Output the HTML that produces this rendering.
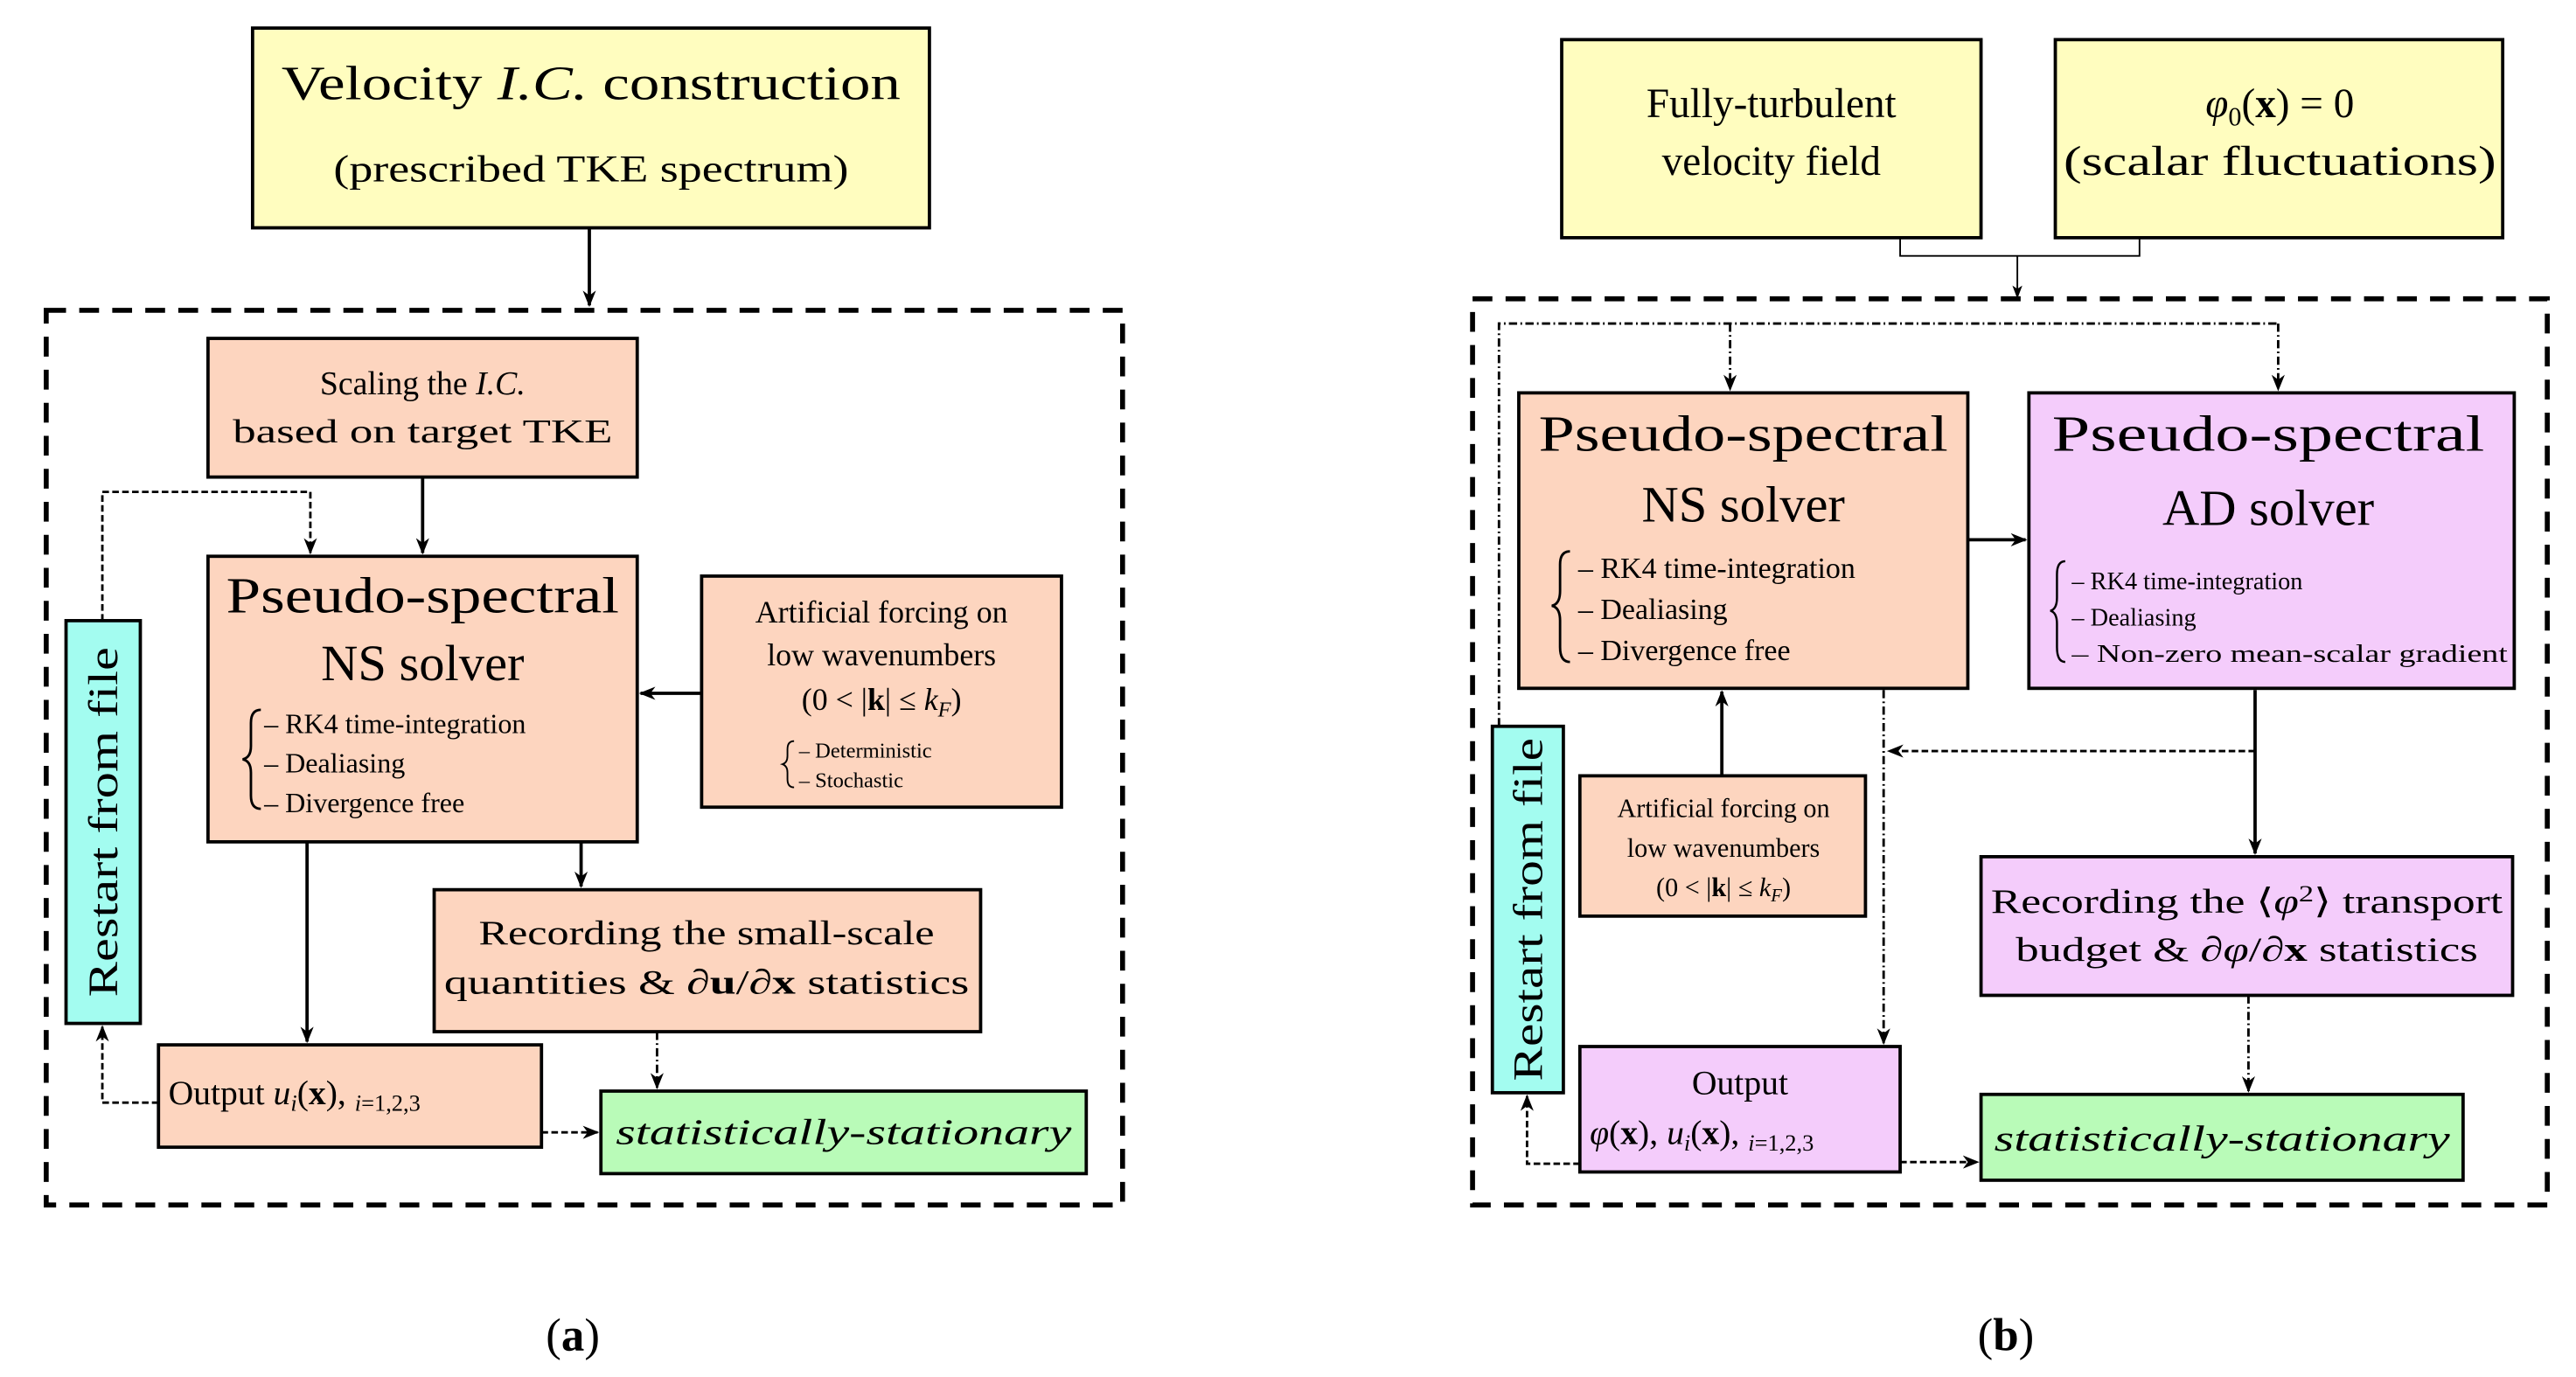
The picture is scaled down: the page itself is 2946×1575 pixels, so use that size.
<!DOCTYPE html>
<html><head><meta charset="utf-8"><style>
html,body{margin:0;padding:0;background:#fff;}
svg{display:block;}
text{font-family:"Liberation Serif",serif;fill:#000;}
</style></head><body>
<svg width="2946" height="1575" viewBox="0 0 1560.4 834.2" xmlns="http://www.w3.org/2000/svg">
<defs>
<marker id="ah" markerWidth="10" markerHeight="8" refX="9" refY="4" orient="auto" markerUnits="userSpaceOnUse"><path d="M0,0 L10,4 L0,8 L3,4 Z" fill="#000"/></marker>
<marker id="ahs" markerWidth="8" markerHeight="6" refX="7" refY="3" orient="auto" markerUnits="userSpaceOnUse"><path d="M0,0 L8,3 L0,6 L2,3 Z" fill="#000"/></marker>
</defs>
<g stroke="#000" stroke-width="2">
<!-- LEFT -->
<rect x="153" y="17" width="410" height="121" fill="#fffdbf"/>
<rect x="28" y="188" width="652" height="542" fill="none" stroke-width="3" stroke-dasharray="12,8"/>
<rect x="126" y="205" width="260" height="84" fill="#fdd5bf"/>
<rect x="126" y="337" width="260" height="173" fill="#fdd5bf"/>
<rect x="425" y="349" width="218" height="140" fill="#fdd5bf"/>
<rect x="40" y="376" width="45" height="244" fill="#a3fcf0"/>
<rect x="263" y="539" width="331" height="86" fill="#fdd5bf"/>
<rect x="96" y="633" width="232" height="62" fill="#fdd5bf"/>
<rect x="364" y="661" width="294" height="50" fill="#b9fbb8"/>
</g>
<g stroke="#000" stroke-width="2" fill="none">
<line x1="357" y1="138" x2="357" y2="185" marker-end="url(#ah)"/>
<line x1="256" y1="289" x2="256" y2="335" marker-end="url(#ah)"/>
<line x1="425" y1="420" x2="388" y2="420" marker-end="url(#ah)"/>
<polyline points="62,376 62,298 188,298 188,335" stroke-width="1.5" stroke-dasharray="4,2" marker-end="url(#ah)"/>
<line x1="186" y1="510" x2="186" y2="631" marker-end="url(#ah)"/>
<line x1="352" y1="510" x2="352" y2="537" marker-end="url(#ah)"/>
<polyline points="96,668 62,668 62,622" stroke-width="1.5" stroke-dasharray="4,2" marker-end="url(#ah)"/>
<line x1="328" y1="686" x2="362" y2="686" stroke-width="1.5" stroke-dasharray="4,2" marker-end="url(#ah)"/>
<line x1="398" y1="625" x2="398" y2="659" stroke-width="1.5" stroke-dasharray="5,2,1,2" marker-end="url(#ah)"/>
<path d="M158,430 q-6,0 -6,8 v14 q0,7 -5,8 q5,1 5,8 v14 q0,8 6,8" stroke-width="1.5"/>
<path d="M481,449 q-4,0 -4,5 v4 q0,4 -3,5 q3,1 3,5 v4 q0,5 4,5" stroke-width="1"/>
</g>
<text x="358" y="60" font-size="29" text-anchor="middle" textLength="375" lengthAdjust="spacingAndGlyphs">Velocity <tspan font-style="italic">I.C.</tspan> construction</text>
<text x="358" y="110" font-size="23" text-anchor="middle" textLength="312" lengthAdjust="spacingAndGlyphs">(prescribed TKE spectrum)</text>
<text x="256" y="239" font-size="20" text-anchor="middle">Scaling the <tspan font-style="italic">I.C.</tspan></text>
<text x="256" y="268" font-size="20" text-anchor="middle" textLength="230" lengthAdjust="spacingAndGlyphs">based on target TKE</text>
<text x="256" y="371" font-size="31" text-anchor="middle" textLength="238" lengthAdjust="spacingAndGlyphs">Pseudo-spectral</text>
<text x="256" y="412" font-size="31" text-anchor="middle">NS solver</text>
<text x="160" y="444" font-size="17">– RK4 time-integration</text>
<text x="160" y="468" font-size="17">– Dealiasing</text>
<text x="160" y="492" font-size="17">– Divergence free</text>
<text x="534" y="377" font-size="19" text-anchor="middle">Artificial forcing on</text>
<text x="534" y="403" font-size="19" text-anchor="middle">low wavenumbers</text>
<text x="534" y="430" font-size="19" text-anchor="middle">(0 &lt; |<tspan font-weight="bold">k</tspan>| ≤ <tspan font-style="italic">k<tspan font-size="13" dy="4">F</tspan></tspan><tspan dy="-4">)</tspan></text>
<text x="484" y="459" font-size="13">– Deterministic</text>
<text x="484" y="477" font-size="13">– Stochastic</text>
<text transform="translate(71,498) rotate(-90)" font-size="25" text-anchor="middle" textLength="212" lengthAdjust="spacingAndGlyphs">Restart from file</text>
<text x="428" y="572" font-size="21" text-anchor="middle" textLength="276" lengthAdjust="spacingAndGlyphs">Recording the small-scale</text>
<text x="428" y="602" font-size="21" text-anchor="middle" textLength="318" lengthAdjust="spacingAndGlyphs">quantities &amp; ∂<tspan font-weight="bold">u</tspan>/∂<tspan font-weight="bold">x</tspan> statistics</text>
<text x="102" y="669" font-size="21">Output <tspan font-style="italic">u<tspan font-size="14" dy="4">i</tspan></tspan><tspan dy="-4">(<tspan font-weight="bold">x</tspan>),</tspan> <tspan font-size="14" font-style="italic" dy="4">i</tspan><tspan font-size="14" dy="0">=1,2,3</tspan></text>
<text x="511" y="693" font-size="22" font-style="italic" text-anchor="middle" textLength="276" lengthAdjust="spacingAndGlyphs">statistically-stationary</text>
<text x="347" y="818" font-size="28" text-anchor="middle">(<tspan font-weight="bold">a</tspan>)</text>

<!-- RIGHT -->
<g stroke="#000" stroke-width="2">
<rect x="946" y="24" width="254" height="120" fill="#fffdbf"/>
<rect x="1245" y="24" width="271" height="120" fill="#fffdbf"/>
<rect x="892" y="181" width="651" height="549" fill="none" stroke-width="3" stroke-dasharray="12,8"/>
<rect x="920" y="238" width="272" height="179" fill="#fdd5bf"/>
<rect x="1229" y="238" width="294" height="179" fill="#f4ccfb"/>
<rect x="957" y="470" width="173" height="85" fill="#fdd5bf"/>
<rect x="904" y="440" width="43" height="222" fill="#a3fcf0"/>
<rect x="1200" y="519" width="322" height="84" fill="#f4ccfb"/>
<rect x="957" y="634" width="194" height="76" fill="#f4ccfb"/>
<rect x="1200" y="663" width="292" height="52" fill="#b9fbb8"/>
</g>
<g stroke="#000" stroke-width="2" fill="none">
<polyline points="1151,144 1151,155 1296,155 1296,144" stroke-width="1"/>
<line x1="1222" y1="155" x2="1222" y2="180" stroke-width="1" marker-end="url(#ahs)"/>
<polyline points="908,440 908,196 1380,196" stroke-width="1.5" stroke-dasharray="5,2,1,2"/>
<line x1="1048" y1="196" x2="1048" y2="236" stroke-width="1.5" stroke-dasharray="5,2,1,2" marker-end="url(#ah)"/>
<line x1="1380" y1="196" x2="1380" y2="236" stroke-width="1.5" stroke-dasharray="5,2,1,2" marker-end="url(#ah)"/>
<line x1="1192" y1="327" x2="1227" y2="327" marker-end="url(#ah)"/>
<line x1="1043" y1="470" x2="1043" y2="419" marker-end="url(#ah)"/>
<line x1="1366" y1="455" x2="1144" y2="455" stroke-width="1.5" stroke-dasharray="4,2" marker-end="url(#ah)"/>
<line x1="1366" y1="418" x2="1366" y2="517" marker-end="url(#ah)"/>
<line x1="1141" y1="418" x2="1141" y2="632" stroke-width="1.5" stroke-dasharray="5,2,1,2" marker-end="url(#ah)"/>
<line x1="1362" y1="603" x2="1362" y2="661" stroke-width="1.5" stroke-dasharray="5,2,1,2" marker-end="url(#ah)"/>
<polyline points="957,705 925,705 925,664" stroke-width="1.5" stroke-dasharray="4,2" marker-end="url(#ah)"/>
<line x1="1151" y1="704" x2="1198" y2="704" stroke-width="1.5" stroke-dasharray="4,2" marker-end="url(#ah)"/>
<path d="M951,334 q-6,0 -6,8 v16 q0,8 -5,9 q5,1 5,9 v16 q0,9 6,9" stroke-width="1.5"/>
<path d="M1251,340 q-5,0 -5,8 v14 q0,7 -4,8 q4,1 4,8 v14 q0,9 5,9" stroke-width="1.3"/>
</g>
<text x="1073" y="71" font-size="25" text-anchor="middle">Fully-turbulent</text>
<text x="1073" y="106" font-size="25" text-anchor="middle">velocity field</text>
<text x="1381" y="71" font-size="25" text-anchor="middle"><tspan font-style="italic">φ</tspan><tspan font-size="16" dy="5">0</tspan><tspan dy="-5">(<tspan font-weight="bold">x</tspan>) = 0</tspan></text>
<text x="1381" y="106" font-size="25" text-anchor="middle" textLength="262" lengthAdjust="spacingAndGlyphs">(scalar fluctuations)</text>
<text x="1056" y="273" font-size="31" text-anchor="middle" textLength="248" lengthAdjust="spacingAndGlyphs">Pseudo-spectral</text>
<text x="1056" y="316" font-size="31" text-anchor="middle">NS solver</text>
<text x="956" y="350" font-size="18">– RK4 time-integration</text>
<text x="956" y="375" font-size="18">– Dealiasing</text>
<text x="956" y="400" font-size="18">– Divergence free</text>
<text x="1374" y="273" font-size="31" text-anchor="middle" textLength="262" lengthAdjust="spacingAndGlyphs">Pseudo-spectral</text>
<text x="1374" y="318" font-size="31" text-anchor="middle">AD solver</text>
<text x="1255" y="357" font-size="15">– RK4 time-integration</text>
<text x="1255" y="379" font-size="15">– Dealiasing</text>
<text x="1255" y="401" font-size="15" textLength="264" lengthAdjust="spacingAndGlyphs">– Non-zero mean-scalar gradient</text>
<text x="1044" y="495" font-size="16" text-anchor="middle">Artificial forcing on</text>
<text x="1044" y="519" font-size="16" text-anchor="middle">low wavenumbers</text>
<text x="1044" y="543" font-size="16" text-anchor="middle">(0 &lt; |<tspan font-weight="bold">k</tspan>| ≤ <tspan font-style="italic">k<tspan font-size="11" dy="3">F</tspan></tspan><tspan dy="-3">)</tspan></text>
<text transform="translate(934,551) rotate(-90)" font-size="25" text-anchor="middle" textLength="208" lengthAdjust="spacingAndGlyphs">Restart from file</text>
<text x="1361" y="553" font-size="21" text-anchor="middle" textLength="310" lengthAdjust="spacingAndGlyphs">Recording the ⟨<tspan font-style="italic">φ</tspan><tspan font-size="14" dy="-7">2</tspan><tspan dy="7">⟩ transport</tspan></text>
<text x="1361" y="582" font-size="21" text-anchor="middle" textLength="280" lengthAdjust="spacingAndGlyphs">budget &amp; ∂<tspan font-style="italic">φ</tspan>/∂<tspan font-weight="bold">x</tspan> statistics</text>
<text x="1054" y="663" font-size="21" text-anchor="middle">Output</text>
<text x="963" y="693" font-size="21"><tspan font-style="italic">φ</tspan>(<tspan font-weight="bold">x</tspan>), <tspan font-style="italic">u<tspan font-size="14" dy="4">i</tspan></tspan><tspan dy="-4">(<tspan font-weight="bold">x</tspan>),</tspan> <tspan font-size="14" font-style="italic" dy="4">i</tspan><tspan font-size="14">=1,2,3</tspan></text>
<text x="1346" y="697" font-size="22" font-style="italic" text-anchor="middle" textLength="276" lengthAdjust="spacingAndGlyphs">statistically-stationary</text>
<text x="1215" y="818" font-size="28" text-anchor="middle">(<tspan font-weight="bold">b</tspan>)</text>
</svg>
</body></html>
